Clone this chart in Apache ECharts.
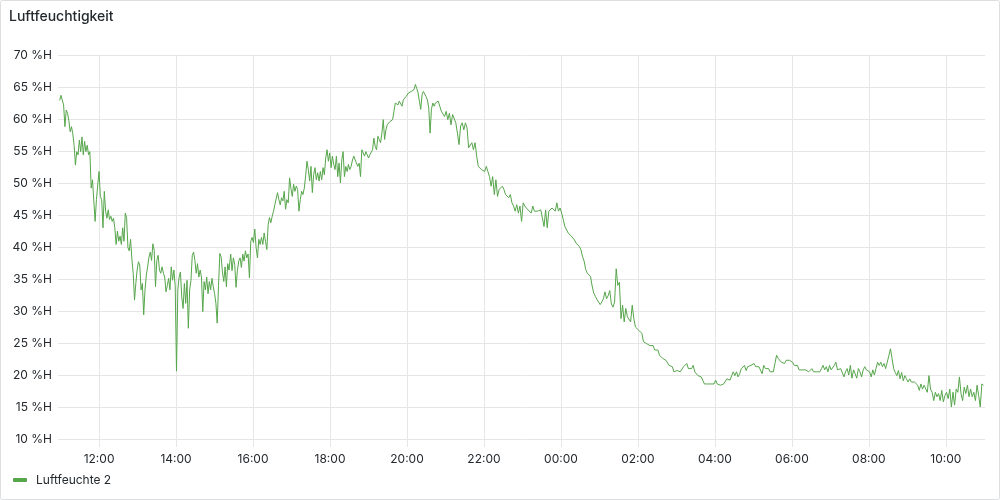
<!DOCTYPE html>
<html>
<head>
<meta charset="utf-8">
<script src="https://cdn.jsdelivr.net/npm/echarts@6/dist/echarts.min.js"></script>
<style>
html,body{margin:0;padding:0;background:#fff;}
#c{width:1000px;height:500px;}
</style>
</head>
<body>
<div id="c"></div>
<script>
// Time is given in minutes after midnight of the first day.
// Part A1: 10:58:36 onward, one sample about every 2.05 min (till ~15:22)
const startA1 = 658.6;
const stepA1 = 2.0465;
const humidityA1 = [
  62.9, 63.7, 64, 62.2, 58.8, 61.4, 60.9, 59.8, 58, 58.8,
  57.7, 55.9, 52.8, 54.9, 54.4, 56.7, 54.9, 57.2, 54.4, 56.5,
  54.9, 55.9, 54.4, 54.9, 49.2, 50.5, 50.2, 44, 47.4, 49.7,
  51.8, 47.9, 47.4, 43, 48.7, 45.6, 44.5, 45.8, 44.3, 44.8,
  44, 44.5, 43, 40.4, 42.5, 40.9, 41.7, 40.4, 43, 40.9,
  45.3, 44.5, 39.9, 39.4, 41.2, 38.1,
  35.9, 31.7, 34.3, 36.4, 37.7, 37.2, 33.3, 34.3, 29.4, 33.3,
  35.6, 36.9, 38.4, 39.2, 37.9, 40.5, 39.5, 33.8, 37.9, 38.7,
  36.4, 35.9, 36.9, 35.9, 35.3, 33, 34, 35.1, 33.3, 36.9,
  34.8, 36.4, 34, 20.6, 33.3, 35.3, 36.1, 32.2, 30.4, 34.3,
  31.2, 34.8, 27.3, 33.3, 34.8, 38.7, 39.2, 37.9, 35.9, 37.4,
  35.3, 36.4, 35.3, 29.9, 34.6, 33.3, 35.3, 32.7, 34.6, 33.3,
  35.1, 33.8, 32.7, 31.2, 28.1, 34, 39, 38.4, 36.1, 34.6,
  36.9, 33.8, 37.4, 36.4
];
// Part A2: 15:25 onward, one sample about every 2.09 min (till ~20:48)
const startA2 = 925.2;
const stepA2 = 2.086;
const humidityA2 = [
  38.9, 36.3, 38.3, 37.3, 33.7, 36.3, 37.8, 38.3, 36.8, 38.9,
  37.8, 39.4, 38.3, 38.9, 35.2, 40.9, 41.5, 40.7, 42.8, 39.9,
  38.3, 41.2, 40.4, 41.5, 40.4, 42.2, 40.9, 39.6, 43.5, 44.6,
  43.8, 44.8, 45.6, 46.6, 46.4, 48.5, 47.4, 46.6, 47.7, 47.2,
  48.7, 45.9, 47.4, 46.9, 50.8, 49.2, 47.9, 49.8, 48.7, 49.5,
  49, 45.6, 47.4, 48.7, 48.2, 49.2, 51.1, 53.4, 52.1, 50.3,
  52.6, 48.5, 51.3, 52.4, 50.5, 51.6, 50.3, 51.8, 50.5, 52.4,
  51.3, 53.9, 55.2, 53.4, 54.7, 52.4, 54.2, 52.9,
  52.1, 54.2, 51, 53.1, 50, 53.6, 54.9, 51, 52.6, 51.8,
  52.9, 52.1, 52.6, 53.6, 54.2, 53.6, 53.9, 52.6, 53.1, 51,
  55.2, 55.5, 54.2, 54.9, 54.4, 53.9, 54.4, 54.2, 55.2, 57,
  55.7, 55.2, 57.3, 56.8, 56.3, 57.8, 59.9, 56.8, 58.3, 59.1,
  58.9, 59.6, 59.4, 59.9, 61.2, 62.5, 62.8, 62.2, 62.8, 63,
  62, 63, 63.3, 63.5, 63.8, 64.1, 63.8, 64.3, 64.1, 64.6,
  65.4, 64.8, 64.1, 62.8, 61.5, 63.8, 64.3, 64.1, 63.5, 63,
  61.7, 57.8, 61.5, 62.5, 62, 62.5, 62.2, 62.8
];
// Part B: 20:51:06 onward, one sample every 2.5 min (till ~10:58 next day)
const startB = 1251.1;
const stepB = 2.5;
const humidityB = [
  62, 61.2, 61.5, 60.4, 61.2, 59.9, 60.9, 59.1, 60.7, 60.9,
  59.4, 57.8, 56, 58.9, 59.4, 58.3, 59.4, 58.6, 55.5, 55.7,
  56.3, 55.2, 56.3, 54.2, 52.6, 52.3, 52.1, 52.3, 51.8, 52.6,
  51.8, 51, 49.5, 51, 48.2, 50.5, 47.9, 49, 49.2, 49.5,
  49, 48.2, 48.4, 47.7, 48.2, 46.9, 46.4, 45.6, 46.6, 45.3,
  46.4, 44, 46.9, 46.4, 46.6, 45.8, 46.1, 45.3, 46.4, 45.6,
  45.8, 45.6, 45.3, 45.8, 45.6, 43.2, 45.8, 43, 45.6, 45.3,
  46.1, 46.4, 45.6, 46.9, 45.6, 46.1, 45.3, 44.3, 43.2, 43,
  42.2, 41.9, 41.7, 41.4, 41.1, 40.6, 40.4, 40.1, 39.6, 38.5,
  37.8, 36.5, 35.9, 36.2, 35.4, 33.9, 32.8, 32.3, 31.8, 31.8,
  31,
  31.4, 31.9, 33, 31.9, 32.4, 33.2, 31.1, 30.6, 31.4, 36.6,
  34, 34.5, 28.8, 30.9, 28.3, 30.4, 29.1, 28.8, 28.3, 30.9,
  28.8, 27.5, 27.2, 27, 26.7, 26.5, 25.2, 25.4, 24.9, 25.2,
  24.6, 24.4, 24.6, 23.9, 24.1, 23.9, 23.1, 23.3, 22.6, 22.6,
  22.3, 22, 21.5, 21.3, 21.3, 20.5, 20.7, 20.7, 21, 20.5,
  20.7, 21.3, 21.5, 21.8, 21, 21.3, 21, 21.5, 20.5, 20.2,
  19.9, 19.7, 19.7, 19.4, 18.6, 18.6, 18.6, 18.9, 18.6, 18.9,
  18.6, 19.2, 18.6, 18.9, 18.4, 18.1, 18.6, 18.4, 19.4, 19.7,
  19.2, 19.9, 20.5, 19.9, 20.5, 19.7, 20.2, 21, 20.7, 21.5,
  20.7, 21.3, 21, 21.5, 21.3, 21.8, 21.3, 21.5, 21.3, 21.5,
  20.2, 21.5, 21, 20.7, 21, 20.5, 20.7, 20.5, 21.8, 23.1,
  22.6,
  22.3, 22, 22.3, 21.8, 22.3, 22.6, 22.3, 22, 22, 21.5,
  21.3, 21.5, 20.8, 21, 20.8, 21, 20.8, 21, 20.5, 20.8,
  21, 20.5, 20.8, 20.5, 20.2, 20.5, 21, 21.5, 20.8, 21.3,
  20.5, 21.5, 20.8, 21, 21.5, 22, 20.8, 20.5, 21, 20.8,
  19.7, 20.5, 21, 20, 21.5, 19.5, 20.8, 20.2, 19.5, 21,
  20.5, 19.7, 20.8, 21.3, 20.8, 21, 20.5, 19.7, 20.8, 20,
  21, 22, 21.5, 22, 21.3, 21.8, 21, 22, 23, 24.1,
  22.6, 21,
  20.4, 19.9, 20.7, 19.4, 20.4, 19.1, 19.9, 19.4, 18.9, 19.4,
  18.9, 18.6, 18.9, 18.6, 18.4, 17.6, 18.6, 17.8, 18.4, 18.1,
  17.3, 19.9, 17.8, 17.3, 16, 17.3, 16.6, 17.1, 16, 17.6,
  15.8, 16.8, 17.3, 16.3, 17.8, 15, 17.3, 15.3, 17.8, 17.3,
  19.7, 17.1, 16, 18.1, 17.1, 18.4, 16.6, 17.8, 16.6, 17.3,
  16, 18.4, 16.8, 15, 18.6, 18.4
];
// Visible time window (minutes after midnight of day 1): 10:56 .. 11:01 next day
const windowStart = 656;
const windowEnd = 2101;
const yRange = { min: 10, max: 70, interval: 5 };
const yUnit = ' %H';
const seriesName = 'Luftfeuchte 2';
const titleText = 'Luftfeuchtigkeit';

function toPoints(values, start, step) {
  return values.map((v, i) => [(start + i * step) / 60, v]);
}
const seriesData = toPoints(humidityA1, startA1, stepA1)
  .concat(toPoints(humidityA2, startA2, stepA2))
  .concat(toPoints(humidityB, startB, stepB));

function pad(n){ return (n < 10 ? '0' : '') + n; }

const chart = echarts.init(document.getElementById('c'), null, {renderer: 'canvas'});
const textColor = '#24292e';
const gridColor = '#e6e6e6';
const lineColor = '#56A64B';
chart.setOption({
  animation: false,
  backgroundColor: '#ffffff',
  textStyle: { fontFamily: 'Inter' },
  title: {
    text: titleText,
    left: 9, top: 10, padding: 0,
    textStyle: { fontFamily: 'Inter', fontSize: 14, fontWeight: 500, color: textColor }
  },
  graphic: [{
    type: 'rect',
    shape: { x: 0.5, y: 0.5, width: 999, height: 499, r: 2 },
    style: { fill: 'none', stroke: '#dcdee0', lineWidth: 1 },
    silent: true, z: 100
  }],
  grid: { left: 58, right: 15, top: 55, bottom: 61, containLabel: false },
  xAxis: {
    type: 'value',
    min: windowStart / 60, max: windowEnd / 60,
    splitNumber: 12,
    axisLine: { show: false },
    axisTick: { show: true, length: 8, lineStyle: { color: gridColor } },
    splitLine: { show: true, showMinLine: false, showMaxLine: false, lineStyle: { color: gridColor, width: 1 } },
    axisLabel: {
      color: textColor, fontSize: 12, fontFamily: 'Inter', margin: 14,
      showMinLabel: false, showMaxLabel: false,
      formatter: function (h) { return pad(Math.round(h) % 24) + ':00'; }
    }
  },
  yAxis: {
    type: 'value',
    min: yRange.min, max: yRange.max, interval: yRange.interval,
    axisLine: { show: false },
    axisTick: { show: false },
    splitLine: { show: true, lineStyle: { color: gridColor, width: 1 } },
    axisLabel: {
      color: textColor, fontSize: 12, fontFamily: 'Inter', margin: 6,
      formatter: function (v) { return v + yUnit; }
    }
  },
  legend: {
    show: true, left: 13, top: 474, padding: 0,
    icon: 'roundRect', itemWidth: 14, itemHeight: 4, itemGap: 10,
    textStyle: { color: textColor, fontSize: 12, fontFamily: 'Inter', padding: [0, 0, 0, 4] },
    data: [{ name: seriesName, itemStyle: { color: lineColor } }]
  },
  series: [{
    name: seriesName,
    type: 'line',
    data: seriesData,
    showSymbol: false,
    symbol: 'none',
    sampling: null,
    lineStyle: { color: lineColor, width: 1 },
    itemStyle: { color: lineColor }
  }]
});
</script>
</body>
</html>
